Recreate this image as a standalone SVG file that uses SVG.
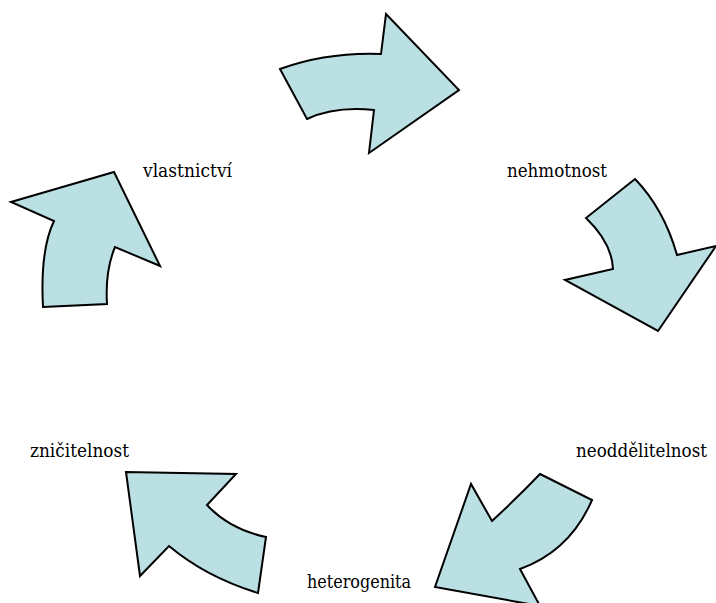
<svg xmlns="http://www.w3.org/2000/svg" width="716" height="603" viewBox="0 0 716 603">
<style>
.arrow{fill:#BBE0E3;stroke:#000;stroke-width:2;stroke-linejoin:miter}
.lbl{font-family:"DejaVu Serif","Liberation Serif",serif;font-size:18px;fill:#000}
</style>
<rect width="716" height="603" fill="#fff"/>
<g id="connectors">
<g id="arrow-top"><path class="arrow" d="M280,69 Q327,52 381,54 L386,14 L459,90 L369,153 L374,110 Q335,106 307,119 Z"/></g>
<g id="arrow-right"><path class="arrow" d="M635,179 L586,218 Q612,243 613,269 L565,280 L658,331 L716,246 L677,255 Q664,209 635,179 Z"/></g>
<g id="arrow-bottom-right"><path class="arrow" d="M540,474 L592,500 Q570,551 520,569 L540,606 L435,587 L471,484 L492,521 Q518,497 540,474 Z"/></g>
<g id="arrow-bottom-left"><path class="arrow" d="M258,593 L266,537 Q229,529 207,505 L236,474 L126,472 L140,576 L169,546 Q206,577 258,593 Z"/></g>
<g id="arrow-left"><path class="arrow" d="M43,307 L107,304 Q105,271 115,247 L160,266 L114,172 L11,202 L54,221 Q40,250 43,307 Z"/></g>
</g>
<g id="node-vlastnictvi"><text class="lbl" x="143" y="177" textLength="89" lengthAdjust="spacingAndGlyphs">vlastnictví</text></g>
<g id="node-nehmotnost"><text class="lbl" x="507" y="177" textLength="100" lengthAdjust="spacingAndGlyphs">nehmotnost</text></g>
<g id="node-neoddelitelnost"><text class="lbl" x="576" y="457" textLength="131" lengthAdjust="spacingAndGlyphs">neoddělitelnost</text></g>
<g id="node-heterogenita"><text class="lbl" x="307" y="588" textLength="104" lengthAdjust="spacingAndGlyphs">heterogenita</text></g>
<g id="node-znicitelnost"><text class="lbl" x="30" y="457" textLength="99" lengthAdjust="spacingAndGlyphs">zničitelnost</text></g>
</svg>
